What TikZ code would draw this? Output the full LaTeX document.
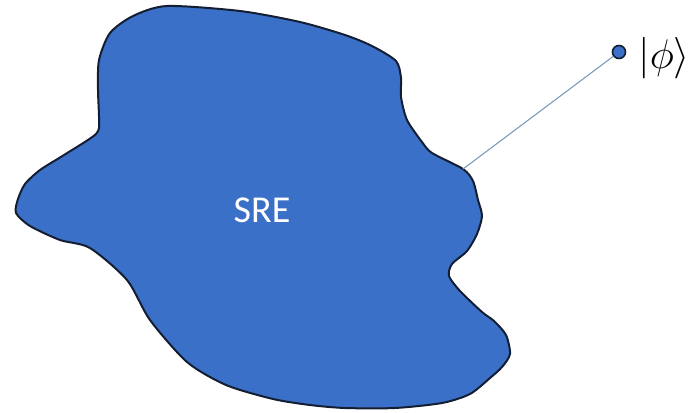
\documentclass[tikz,border=0pt]{standalone}
\usepackage{amsmath}
\usepackage{fontspec}
\setmainfont{Carlito}
\usetikzlibrary{positioning}

\definecolor{blobblue}{RGB}{58,112,200}
\definecolor{outline}{RGB}{20,30,50}
\definecolor{linkgray}{RGB}{125,155,190}

\begin{document}
\begin{tikzpicture}[x=0.5pt, y=-0.5pt,
    region/.style={fill=blobblue, draw=outline, line width=1pt, line join=round},
    statedot/.style={circle, fill=blobblue, draw=outline, line width=0.8pt,
      minimum size=6.5pt, inner sep=0pt},
    link/.style={draw=linkgray, line width=0.55pt}]
  \useasboundingbox (0,0) rectangle (690,412);
  % the blob
  \draw[region] plot[smooth cycle, tension=0.45] coordinates {
    (167,6) (240,11) (300,22) (345,35) (372,46) (396,61)   % top
    (401,78) (401,97) (407,120) (422,142) (432,153)
    (463,169) (473,181) (478,200) (482,216) (477,234)      % right bulge
    (467,251) (452,264) (449,276) (460,291) (482,312)
    (494,321) (506,335) (510,354) (502,367) (490,378)
    (470,394) (442,403) (395,408) (345,408) (310,405)      % bottom
    (273,399) (226,385) (187,362) (150,320) (127,280)
    (90,248) (60,240) (30,226) (16,213) (18,199)           % left lobe
    (25,184) (40,170) (64,155) (96,134) (99,120)
    (98,90) (99,60) (110,33) (133,16)};
  \node[text=white, font=\fontsize{19}{22}\selectfont] (sre) at (262,210) {SRE};
  % the state
  \coordinate (edge) at (463,169);
  \node[statedot] (ket) at (619,52) {};
  \node[font=\fontsize{21}{24}\selectfont, anchor=west, inner sep=0pt]
    (ketlabel) at (638,58) {$|\phi\rangle$};
  \draw[link] (edge) -- (ket);
\end{tikzpicture}
\end{document}
